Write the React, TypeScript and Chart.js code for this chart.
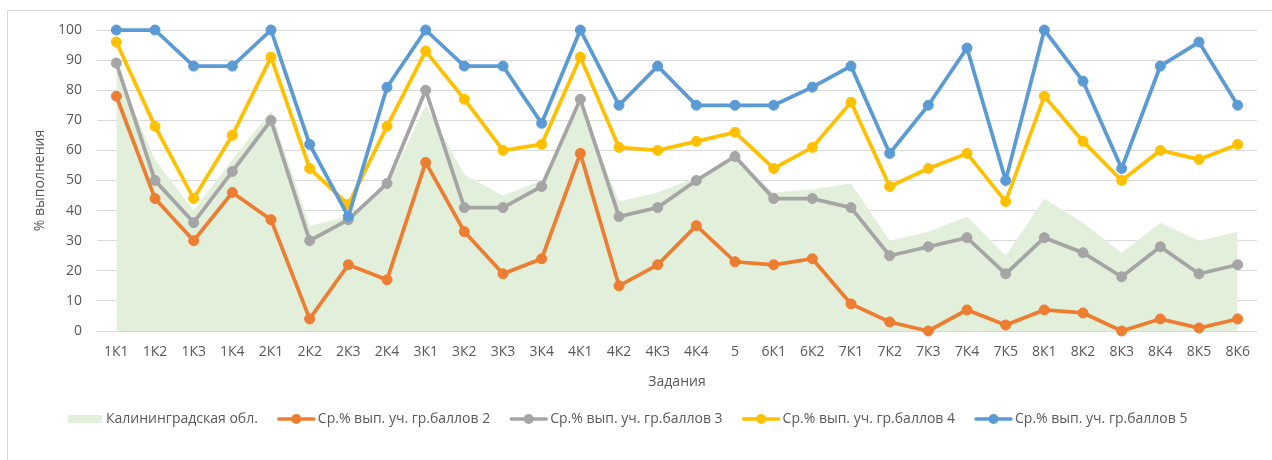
import React, { useEffect, useRef } from "react";
import { Chart, registerables } from "chart.js";

Chart.register(...registerables);

const categories = [
  "1К1", "1К2", "1К3", "1К4", "2К1", "2К2", "2К3", "2К4", "3К1", "3К2",
  "3К3", "3К4", "4К1", "4К2", "4К3", "4К4", "5", "6К1", "6К2", "7К1",
  "7К2", "7К3", "7К4", "7К5", "8К1", "8К2", "8К3", "8К4", "8К5", "8К6",
];

const kaliningrad = [
  87, 57, 40, 57, 73, 35, 38, 48, 75, 52,
  45, 50, 75, 43, 46, 51, 57, 46, 47, 49,
  30, 33, 38, 25, 44, 36, 26, 36, 30, 33,
];

const grade2 = [
  78, 44, 30, 46, 37, 4, 22, 17, 56, 33,
  19, 24, 59, 15, 22, 35, 23, 22, 24, 9,
  3, 0, 7, 2, 7, 6, 0, 4, 1, 4,
];

const grade3 = [
  89, 50, 36, 53, 70, 30, 37, 49, 80, 41,
  41, 48, 77, 38, 41, 50, 58, 44, 44, 41,
  25, 28, 31, 19, 31, 26, 18, 28, 19, 22,
];

const grade4 = [
  96, 68, 44, 65, 91, 54, 42, 68, 93, 77,
  60, 62, 91, 61, 60, 63, 66, 54, 61, 76,
  48, 54, 59, 43, 78, 63, 50, 60, 57, 62,
];

const grade5 = [
  100, 100, 88, 88, 100, 62, 38, 81, 100, 88,
  88, 69, 100, 75, 88, 75, 75, 75, 81, 88,
  59, 75, 94, 50, 100, 83, 54, 88, 96, 75,
];

const seriesLabels = [
  "Калининградская обл.",
  "Ср.% вып. уч. гр.баллов 2",
  "Ср.% вып. уч. гр.баллов 3",
  "Ср.% вып. уч. гр.баллов 4",
  "Ср.% вып. уч. гр.баллов 5",
];

const yTitle = "% выполнения";
const xTitle = "Задания";

const FONT = "'Open Sans', 'Noto Sans', sans-serif";
const FS = 14;
const TEXT = "#595959";
const GRID = "#D9D9D9";
const AREA = "#E2EFDA";
const COLORS = ["#ED7D31", "#A5A5A5", "#FFC000", "#5B9BD5"];

const legendPlugin = {
  id: "excelLegend",
  afterDraw(chart: any) {
    const ctx = chart.ctx;
    ctx.save();
    ctx.font = `${FS}px ${FONT}`;
    ctx.textBaseline = "middle";
    ctx.textAlign = "left";
    const y = 419;
    let x = 68;
    chart.data.datasets.forEach((ds: any, i: number) => {
      if (i === 0) {
        ctx.fillStyle = ds.backgroundColor;
        ctx.fillRect(x, y - 4, 34, 8);
        x += 34 + 4;
      } else {
        ctx.strokeStyle = ds.borderColor;
        ctx.lineWidth = 3.5;
        ctx.lineCap = "round";
        ctx.beginPath();
        ctx.moveTo(x + 1, y);
        ctx.lineTo(x + 36, y);
        ctx.stroke();
        ctx.fillStyle = ds.borderColor;
        ctx.beginPath();
        ctx.arc(x + 18.5, y, 5, 0, Math.PI * 2);
        ctx.fill();
        x += 37 + 3;
      }
      ctx.fillStyle = TEXT;
      ctx.fillText(ds.label, x, y);
      x += ctx.measureText(ds.label).width + 20;
    });
    ctx.restore();
  },
};

export default function App() {
  const ref = useRef<HTMLCanvasElement | null>(null);

  useEffect(() => {
    if (!ref.current) return;
    const lineDs = (label: string, data: number[], color: string, order: number) => ({
      type: "line" as const,
      label,
      data,
      borderColor: color,
      backgroundColor: color,
      borderWidth: 3.75,
      pointRadius: 5,
      pointHoverRadius: 5,
      pointBorderWidth: 1,
      pointBackgroundColor: color,
      pointBorderColor: color,
      tension: 0,
      fill: false,
      clip: false as any,
      order,
    });

    const chart = new Chart(ref.current, {
      type: "line",
      data: {
        labels: categories,
        datasets: [
          {
            type: "line",
            label: seriesLabels[0],
            data: kaliningrad,
            borderWidth: 0,
            borderColor: AREA,
            backgroundColor: AREA,
            pointRadius: 0,
            fill: "origin",
            tension: 0,
            order: 10,
          },
          lineDs(seriesLabels[1], grade2, COLORS[0], 4),
          lineDs(seriesLabels[2], grade3, COLORS[1], 3),
          lineDs(seriesLabels[3], grade4, COLORS[2], 2),
          lineDs(seriesLabels[4], grade5, COLORS[3], 1),
        ] as any,
      },
      options: {
        animation: false,
        responsive: false,
        devicePixelRatio: 1,
        layout: { padding: { left: 0, right: 15, top: 30, bottom: 70 } },
        plugins: {
          legend: { display: false },
          tooltip: { enabled: false },
        },
        scales: {
          x: {
            type: "category",
            offset: true,
            grid: { display: false, drawTicks: false },
            border: { display: false },
            ticks: {
              color: TEXT,
              font: { family: FONT, size: FS },
              padding: 13,
              autoSkip: false,
              maxRotation: 0,
            },
            title: {
              display: true,
              text: xTitle,
              color: TEXT,
              font: { family: FONT, size: FS },
              padding: { top: 0, bottom: 0 },
            },
            afterFit: (s: any) => {
              s.height = 59;
            },
          },
          y: {
            min: 0,
            max: 100,
            ticks: {
              stepSize: 10,
              color: TEXT,
              font: { family: FONT, size: FS },
              padding: 15,
            },
            grid: { color: GRID, lineWidth: 1, drawTicks: false },
            border: { display: false },
            title: {
              display: true,
              text: yTitle,
              color: TEXT,
              font: { family: FONT, size: FS },
              padding: { top: 32, bottom: 0 },
            },
            afterFit: (s: any) => {
              s.width = 97;
            },
          },
        },
      },
      plugins: [legendPlugin],
    });
    return () => chart.destroy();
  }, []);

  return (
    <div
      style={{
        position: "fixed",
        left: 0,
        top: 0,
        width: 1272,
        height: 460,
        overflow: "hidden",
        background: "#ffffff",
      }}
    >
      <div
        style={{
          position: "absolute",
          left: 7,
          top: 10,
          width: 1400,
          height: 600,
          border: "1px solid #D9D9D9",
          boxSizing: "border-box",
        }}
      />
      <canvas
        ref={ref}
        width={1272}
        height={460}
        style={{ position: "absolute", left: 0, top: 0, width: 1272, height: 460 }}
      />
    </div>
  );
}
